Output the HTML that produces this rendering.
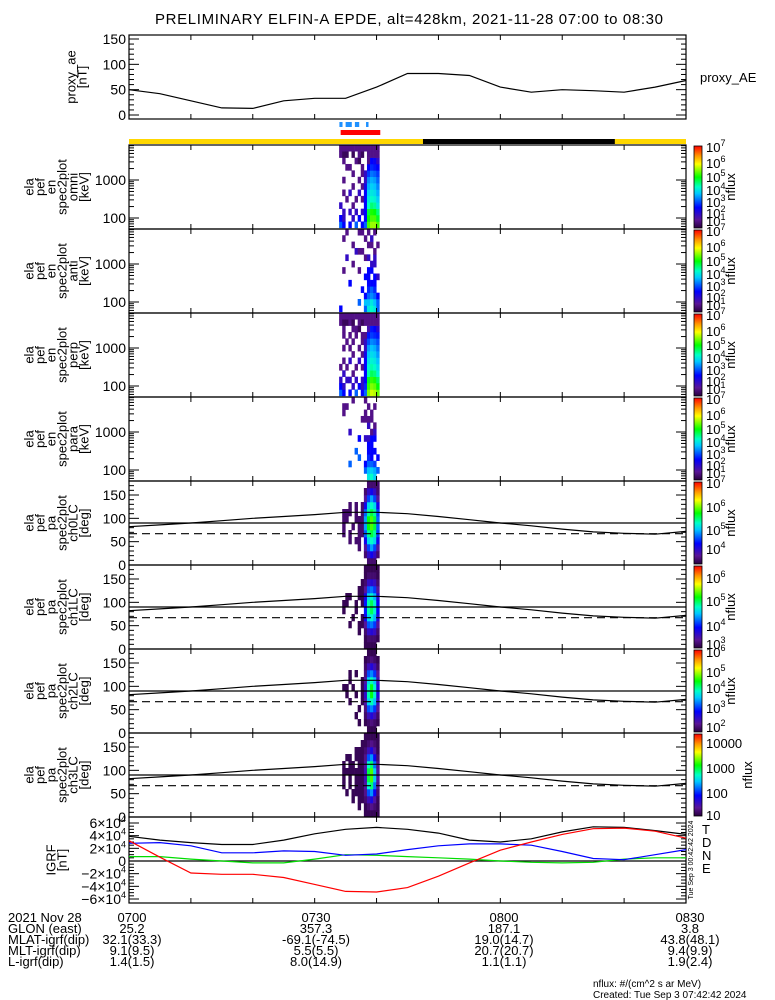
<!DOCTYPE html>
<html><head><meta charset="utf-8">
<style>
html,body{margin:0;padding:0;background:#fff;}
svg{display:block;font-family:"Liberation Sans",sans-serif;}
text{fill:#000;}
</style></head>
<body>
<svg id="chart" width="775" height="1000" viewBox="0 0 775 1000" xmlns="http://www.w3.org/2000/svg">
<defs>
<linearGradient id="cbgrad" x1="0" y1="1" x2="0" y2="0">
<stop offset="0" stop-color="rgb(40,0,60)"/>
<stop offset="0.1" stop-color="rgb(90,20,150)"/>
<stop offset="0.25" stop-color="rgb(0,0,255)"/>
<stop offset="0.42" stop-color="rgb(0,200,255)"/>
<stop offset="0.5" stop-color="rgb(0,255,200)"/>
<stop offset="0.62" stop-color="rgb(0,255,0)"/>
<stop offset="0.78" stop-color="rgb(255,255,0)"/>
<stop offset="0.88" stop-color="rgb(255,150,0)"/>
<stop offset="1" stop-color="rgb(255,0,0)"/>
</linearGradient>
</defs>
<text x="409" y="24" font-size="15" text-anchor="middle" textLength="508">PRELIMINARY ELFIN-A EPDE, alt=428km, 2021-11-28 07:00 to 08:30</text>
</svg>
<script>
// ---------- data ----------
const aeTimes = [0,5,10,15,20,25,30,35,40,45,50,55,60,65,70,75,80,85,90];
const aeValues = [50,42,28,14,13,28,33,33,55,82,82,78,55,45,50,48,45,55,68];

const igrfTimes = [0,5,10,15,20,25,30,35,40,45,50,55,60,65,70,75,80,85,90];
const igrfT = [3.9,3.3,2.9,2.6,2.6,3.3,4.3,5.0,5.3,5.0,4.4,3.3,3.0,3.5,4.6,5.4,5.3,4.8,4.2];
const igrfD = [3.2,0.6,-1.9,-2.1,-2.1,-2.6,-3.7,-4.8,-4.9,-4.2,-2.4,-0.3,1.7,3.0,4.2,5.1,5.2,4.7,3.6];
const igrfN = [2.8,2.9,2.4,1.3,1.3,1.6,1.5,0.9,1.1,1.8,2.4,2.7,2.7,2.5,1.5,0.4,0.2,1.0,1.8];
const igrfE = [0.7,0.7,0.3,0.0,-0.3,-0.3,0.3,1.0,0.9,0.7,0.5,0.3,0.0,-0.2,-0.3,-0.2,0.3,0.5,0.5];

const lcTimes = [0,5,10,15,20,25,30,35,40,45,50,55,60,65,70,75,80,85,90];
const lossCone = [82,86,90,95,100,104,108,113,113,110,104,97,90,84,77,71,68,66,72];
const antiLossCone = [67];

const aeMarkStarts = [34.0,35.0,36.5,38.3];
const aeMarkEnds = [34.5,36.0,37.2,38.7];
const sciZone = [34.2,40.6];
const eclipse = [47.5,78.5];

const specTimes = [34.2,34.7,35.2,35.7,36.2,36.7,37.2,37.7,38.2,38.7,39.2,39.7,40.2];
const energyEdges = [55,81,120,176,259,382,562,827,1218,1793,2640,3887,5722,8425];
const pitchEdges = [0,15,30,45,60,75,90,105,120,135,150,165,180];

const omni = [
[3,2.5,0,2,0,0,0,0,0,0,0,1.5,1.5],
[2.5,2,2,0,0,1.5,0,1.5,0,0,1.5,1.2,1.5],
[0,0,0,0,1.5,0,0,0,0,1.5,0,1.2,1.5],
[2.5,0,2,0,0,2,0,0,0,1.5,0,0,1.5],
[0,2,0,1.5,0,0,1.5,0,1.5,0,0,1.2,1.5],
[3,0,2,0,1.5,0,0,0,0,0,1.5,0,1.5],
[0,2.5,0,0,0,2,0,1.5,0,0,1.2,1.5,1.5],
[2.5,0,2,0,1.5,0,1.5,0,1.5,1.5,0,1.2,1.5],
[3,2.5,2.5,2.5,2.5,2.5,2.3,2,2,0,0,0,1.5],
[5,4.7,4.5,4,3.8,3.6,3.4,3.2,2.8,2.5,1.5,1.5,1.5],
[5.3,5,4.8,4.3,4,3.8,3.6,3.4,3.1,2.7,2.5,1.5,1.5],
[5.3,5,4.7,4.2,3.9,3.7,3.5,3.3,3,2.6,2.4,1.5,1.5],
[5,4.6,4.3,3.8,3.6,3.4,3.2,3,2.8,2.5,2,1.5,1.5]];
const anti = [
[2.5,0,0,0,0,0,0,0,0,0,0,0,0],
[0,0,0,0,0,0,1.5,0,0,0,0,1.5,0],
[0,0,0,0,0,0,0,0,2,0,0,0,1.5],
[0,0,0,0,2.5,0,0,0,0,0,0,0,0],
[0,0,0,0,0,0,0,1.5,0,0,1.5,0,0],
[0,0,0,0,0,0,0,0,0,2,0,0,0],
[0,3,0,0,0,0,1.5,0,0,1.5,0,0,1.5],
[0,0,0,2.5,0,0,0,0,0,1.5,0,0,1.5],
[3,3.5,2.5,0,0,2.5,0,0,1.5,0,0,1.5,0],
[3.8,3.5,3,2.7,2.5,2.5,2.5,0,2,0,1.5,0,1.5],
[4,3.8,3.2,3,2.5,0,2.5,2,0,0,1.5,2,0],
[3.8,3.5,3,2.7,2.5,2.5,0,2,2,1.5,0,0,1.5],
[3,3,2.5,0,0,2,0,0,0,0,1.5,0,0]];
const perp = [
[3,2.5,2,0,1.5,0,0,0,0,0,0,1.5,1.5],
[2.5,2,0,2,0,1.5,0,1.5,0,1.5,1.5,1.2,1.5],
[0,0,2,0,1.5,0,0,0,1.5,0,0,1.2,1.5],
[2.5,0,2,0,0,2,0,1.5,0,1.5,0,1.5,1.5],
[0,2,0,1.5,0,0,1.5,0,1.5,0,1.5,1.2,1.5],
[3,0,2,0,1.5,0,0,0,0,1.5,1.5,0,1.5],
[0,2.5,0,0,0,2,0,1.5,0,0,1.2,1.5,1.5],
[2.5,2,2,0,1.5,0,1.5,0,1.5,1.5,0,1.2,1.5],
[3,2.7,2.5,2.5,2.5,2.5,2.3,2,2,1.5,0,1.5,1.5],
[5.2,4.9,4.6,4.1,3.9,3.7,3.5,3.3,2.9,2.6,1.8,1.5,1.5],
[5.5,5.2,4.9,4.4,4.1,3.9,3.7,3.5,3.2,2.8,2.6,1.5,1.5],
[5.4,5.1,4.8,4.3,4,3.8,3.6,3.4,3.1,2.7,2.5,1.5,1.5],
[5.1,4.7,4.4,3.9,3.7,3.5,3.3,3.1,2.9,2.6,2.1,1.5,1.5]];
const para = [
[0,0,0,0,0,0,0,0,0,0,0,0,0],
[0,0,0,0,0,0,0,0,0,0,1.5,1.5,0],
[0,0,0,0,0,0,0,0,0,0,0,1.5,0],
[0,0,3,0,0,0,0,2,0,0,0,0,0],
[0,0,0,0,0,0,0,0,0,0,0,0,1.5],
[0,0,0,0,3,0,0,0,0,0,0,0,0],
[0,0,0,3,0,0,2.5,0,0,0,0,0,0],
[0,0,0,0,0,0,0,0,0,1.5,0,0,0],
[0,3,2.5,0,0,0,2,0,0,1.5,1.5,0,1.5],
[3.8,3.5,3,2.7,2.5,2.5,2,0,2,1.5,0,1.5,0],
[4,3.6,3,2.5,2.5,2.5,2.5,1.5,0,1.5,1.5,0,0],
[3.6,3.4,2.8,0,2.5,0,2.5,2,1.5,0,0,1.5,0],
[0,3,0,2.5,0,0,0,0,0,0,0,0,0]];

const ch0 = [
[0,0,0,0,0,0,0,0,0,0,0,0],
[0,0,0,0,3.6,3.6,3.6,3.6,0,0,0,0],
[0,0,0,0,0,0,3.6,3.6,0,0,0,0],
[0,0,0,3.6,3.6,0,0,3.6,3.6,0,0,0],
[0,0,0,0,0,3.6,0,0,0,0,0,0],
[0,0,0,3.6,0,0,3.6,3.6,3.6,0,0,0],
[0,0,3.6,3.6,3.6,3.6,3.6,0,0,0,0,0],
[0,0,0,0,3.6,3.6,3.6,3.6,3.6,0,0,0],
[0,3.6,3.8,4.2,4.6,4.8,4.8,4.6,4.2,3.8,3.6,0],
[3.6,4,4.5,5,5.3,5.6,5.6,5.3,5,4.5,4,3.6],
[3.6,4.2,4.8,5.2,5.5,5.8,5.8,5.5,5.2,4.8,4.2,3.6],
[3.6,4,4.5,5,5.3,5.5,5.5,5.3,5,4.5,4,3.6],
[0,3.6,3.8,4.2,4.5,4.6,4.6,4.5,4.2,3.8,3.6,3.6]];
const ch1 = [
[0,0,0,0,0,0,0,0,0,0,0,0],
[0,0,0,0,0,2.9,2.9,0,0,0,0,0],
[0,0,0,0,0,0,2.9,2.9,0,0,0,0],
[0,0,0,2.9,0,0,0,2.9,0,0,0,0],
[0,0,0,0,2.9,0,0,0,0,0,0,0],
[0,0,0,0,0,2.9,2.9,0,0,0,0,0],
[0,0,2.9,2.9,0,0,0,2.9,2.9,0,0,0],
[0,0,0,2.9,2.9,0,2.9,2.9,2.9,2.9,0,0],
[2.9,2.9,3,3.2,3.6,3.8,3.8,3.6,3.2,3,2.9,2.9],
[2.9,3,3.4,4,4.4,4.7,4.7,4.4,4,3.4,3,2.9],
[2.9,3,3.5,4.1,4.6,4.9,4.9,4.6,4.1,3.5,3,2.9],
[2.9,3,3.4,3.9,4.3,4.6,4.6,4.3,3.9,3.4,3,2.9],
[0,2.9,3,3.2,3.5,3.7,3.7,3.5,3.2,3,2.9,2.9]];
const ch2 = [
[0,0,0,0,0,0,0,0,0,0,0,0],
[0,0,0,0,0,0,2.1,0,0,0,0,0],
[0,0,0,0,0,2.1,2.1,0,0,0,0,0],
[0,0,0,0,2.1,0,0,2.1,2.1,0,0,0],
[0,0,0,0,0,0,2.1,0,0,0,0,0],
[0,0,2.1,0,0,2.1,0,0,2.1,0,0,0],
[0,2.1,0,2.1,0,0,0,0,0,0,0,0],
[0,0,0,0,2.1,2.1,2.1,2.1,0,0,0,0],
[0,2.1,2.2,2.3,2.5,2.7,2.7,2.5,2.3,2.2,2.1,0],
[2.1,2.2,2.6,3.3,3.8,4.1,4.1,3.8,3.3,2.6,2.2,2.1],
[2.1,2.3,2.8,3.5,4.1,4.5,4.5,4.1,3.5,2.8,2.3,2.1],
[2.1,2.2,2.6,3.2,3.7,4.0,4.0,3.7,3.2,2.6,2.2,2.1],
[0,2.1,2.2,2.4,2.6,2.8,2.8,2.6,2.4,2.2,2.1,0]];
const ch3 = [
[0,0,0,0,0,0,0,0,0,0,0,0],
[0,0,0,0,1,1,1,1,0,0,0,0],
[0,0,0,1,0,0,1,0,1,0,0,0],
[0,0,0,0,1,1,1,1,1,0,0,0],
[0,0,1,1,0,0,1,1,0,0,0,0],
[0,0,0,1,1,1,1,0,1,1,0,0],
[0,1,1,1,1,1,1,1,1,1,0,0],
[0,0,1,1,1,1,1,1,1,1,1,0],
[1,1,1.1,1.2,1.3,1.4,1.4,1.3,1.2,1.1,1,1],
[1,1.1,1.4,2.0,2.6,2.9,2.9,2.6,2.0,1.4,1.1,1],
[1,1.2,1.6,2.2,2.8,3.2,3.2,2.8,2.2,1.6,1.2,1],
[1,1.1,1.3,1.7,2.1,2.4,2.4,2.1,1.7,1.3,1.1,1],
[1,1,1,1.1,1.2,1.3,1.3,1.2,1.1,1,1,1]];

const igrfTicks = [6,4,2,0,-2,-4,-6];
const aeTicks = [0,50,100,150];
const pitchTicks = [0,50,100,150];
const energyTicks = [100,1000];

// ---------- helpers ----------
const svg = document.getElementById('chart');
const NS = 'http://www.w3.org/2000/svg';
function mk(tag, attrs, parent){ const e=document.createElementNS(NS,tag); for(const k in attrs) e.setAttribute(k,attrs[k]); (parent||svg).appendChild(e); return e; }
const X0=129, X1=686, TMAX=90;
function xT(t){ return X0 + t*(X1-X0)/TMAX; }
const stops=[[0,[40,0,60]],[0.1,[90,20,150]],[0.25,[0,0,255]],[0.42,[0,200,255]],[0.5,[0,255,200]],[0.62,[0,255,0]],[0.78,[255,255,0]],[0.88,[255,150,0]],[1,[255,0,0]]];
function cmap(f){ f=Math.max(0,Math.min(1,f)); for(let i=1;i<stops.length;i++){ if(f<=stops[i][0]){ const a=stops[i-1],b=stops[i]; const u=(f-a[0])/(b[0]-a[0]); const c=a[1].map((v,j)=>Math.round(v+(b[1][j]-v)*u)); return 'rgb('+c.join(',')+')'; } } return 'rgb(255,0,0)'; }

function timeTicks(top,bot,g){
  for(let t=0;t<=90;t+=10){ const x=xT(t);
    const a=mk('line',{x1:x,y1:bot,x2:x,y2:bot-5,stroke:'#000','stroke-width':1},g);
    
    
    const b=mk('line',{x1:x,y1:top,x2:x,y2:top+5,stroke:'#000','stroke-width':1},g);
    
    
  }
}
function box(top,bot,g){
  const r=mk('rect',{x:X0,y:top,width:X1-X0,height:bot-top,fill:'none',stroke:'#000','stroke-width':1.2},g);
  
  
}
function ylabel(lines,cx,cy,g,name){
  const n=lines.length, sp=11;
  lines.forEach((s,i)=>{
    const x=cx-(n-1)*sp/2+i*sp;
    const t=mk('text',{x:0,y:0,'font-size':13,'text-anchor':'middle',transform:'translate('+(x+5)+','+cy+') rotate(-90)'},g);
    t.textContent=s;
    
    
  });
}
function yTick(y,len,g){
  const a=mk('line',{x1:X0,y1:y,x2:X0+len,y2:y,stroke:'#000'},g);
  
  
  const b=mk('line',{x1:X1,y1:y,x2:X1-len,y2:y,stroke:'#000'},g);
  
  
}
function tickLabel(txt,y,g){
  const t=mk('text',{x:X0-3,y:y+5,'font-size':14,'text-anchor':'end'},g);
  t.textContent=txt;
  
  
  return t;
}
function colorbar(top,bot,labels,labelYs,nfluxX,g){
  const r=mk('rect',{x:694,y:top+1,width:8,height:bot-top-2,fill:'url(#cbgrad)',stroke:'#000','stroke-width':0.8},g);
  
  
  labels.forEach((lb,i)=>{
    const t=mk('text',{x:706,y:labelYs[i]+5,'font-size':13},g);
    if(lb[1]!==null){ t.textContent=lb[0]; const s=mk('tspan',{dy:-6,'font-size':9},t); s.textContent=lb[1]; }
    else t.textContent=lb[0];
    
    
  });
  const n=mk('text',{x:0,y:0,'font-size':13,'text-anchor':'middle',transform:'translate('+nfluxX+','+((top+bot)/2)+') rotate(-90)'},g);
  n.textContent='nflux';
  
  
}
function heat(matrix,edgesY,yOf,zmin,zmax,g){
  matrix.forEach((col,ci)=>{
    const x=xT(specTimes[ci]-0.25), w=xT(specTimes[ci]+0.25)-x;
    col.forEach((v,bi)=>{
      if(!v) return;
      const y1=yOf(edgesY[bi]), y2=yOf(edgesY[bi+1]);
      const c=mk('rect',{x:x,y:Math.min(y1,y2),width:w+0.3,height:Math.abs(y2-y1)+0.3,fill:cmap((v-zmin)/(zmax-zmin))},g);
      
      
    });
  });
}
function polyline(ts,vs,xf,yf,color,g,name,dash){
  const pts=ts.map((t,i)=>xf(t).toFixed(1)+','+yf(vs[i]).toFixed(1)).join(' ');
  const p=mk('polyline',{points:pts,fill:'none',stroke:color,'stroke-width':1.2},g);
  if(dash) p.setAttribute('stroke-dasharray',dash);
  
  
  return p;
}

// ---------- proxy AE ----------
{
  const g=mk('g',{});  
  const top=35,bot=119; const yA=v=>115-v*(76/150);
  box(top,bot,g); timeTicks(top,bot,g);
  for(let v=0;v<=150;v+=10){ yTick(yA(v), v%50===0?10:5, g); }
  aeTicks.forEach(v=>tickLabel(String(v),yA(v),g));
  polyline(aeTimes,aeValues,xT,yA,'#000',g,'proxy-ae-line');
  ylabel(['proxy_ae','[nT]'],76,77,g,'y-axis-title');
  const t=mk('text',{x:700,y:82,'font-size':13},g); t.textContent='proxy_AE';
  
  
}
// ---------- state bars ----------
{
  const g=mk('g',{});  
  aeMarkStarts.forEach((s,i)=>{
    const r=mk('rect',{x:xT(s),y:122,width:xT(aeMarkEnds[i])-xT(s),height:5,fill:'#1e90ff'},g);
    
    
  });
  const red=mk('rect',{x:xT(sciZone[0]),y:130,width:xT(sciZone[1])-xT(sciZone[0]),height:5,fill:'#ff0000'},g);
  
  
  const y=mk('rect',{x:X0,y:139,width:X1-X0,height:5,fill:'#ffd700'},g);
  
  
  const k=mk('rect',{x:xT(eclipse[0]),y:139,width:xT(eclipse[1])-xT(eclipse[0]),height:5,fill:'#000'},g);
  
  
}
// ---------- energy spectrograms ----------
const specData=[omni,anti,perp,para];
const specNames=['omni','anti','perp','para'];
const specCbY=[2,18,32,45,57,68,76];
const specCbL=[['10','7'],['10','6'],['10','5'],['10','4'],['10','3'],['10','2'],['10','1']];
specData.forEach((m,i)=>{
  const top=145+84*i, bot=top+84;
  const g=mk('g',{});  
  const yE=E=>top+73-(Math.log10(E)-2)*38;
  heat(m,energyEdges,yE,1,7,g);
  box(top,bot,g); timeTicks(top,bot,g);
  for(let d=10;d<=10000;d*=10){ for(let k=1;k<10;k++){ const y=yE(d*k); if(y>top&&y<bot) yTick(y,k===1?10:5,g); } }
  energyTicks.forEach(E=>tickLabel(String(E),yE(E),g));
  ylabel(['ela','pef','en','spec2plot',specNames[i],'[keV]'],56,(top+bot)/2,g,'y-axis-title');
  colorbar(top,bot,specCbL,specCbY.map(o=>top+o),735,g);
});
// ---------- pitch angle spectrograms ----------
const pitchData=[ch0,ch1,ch2,ch3];
const pitchZ=[[3.4,7],[2.8,6.5],[2.0,6.1],[0.9,4.35]];
const pitchCbL=[
 [['10','7'],['10','6'],['10','5'],['10','4']],
 [['10','6'],['10','5'],['10','4'],['10','3']],
 [['10','6'],['10','5'],['10','4'],['10','3'],['10','2']],
 [['10000',null],['1000',null],['100',null],['10',null]]];
const pitchCbY=[[2,26,49,68],[13,36,61,79],[3,23,39,59,78],[10,35,60,82]];
pitchData.forEach((m,i)=>{
  const top=481+84*i, bot=top+84;
  const g=mk('g',{});  
  const yP=d=>bot-d*84/180;
  heat(m,pitchEdges,yP,pitchZ[i][0],pitchZ[i][1],g);
  box(top,bot,g); timeTicks(top,bot,g);
  for(let d=10;d<180;d+=10){ yTick(yP(d), d%50===0?10:5, g); }
  pitchTicks.forEach(d=>tickLabel(String(d),yP(d),g));
  const h=mk('line',{x1:X0,y1:yP(90),x2:X1,y2:yP(90),stroke:'#000','stroke-width':1.2},g);
  
  
  polyline(lcTimes,lossCone,xT,yP,'#000',g,'loss-cone-line');
  polyline([0,90],[antiLossCone[0],antiLossCone[0]],xT,yP,'#000',g,'anti-loss-cone-line','8,5');
  ylabel(['ela','pef','pa','spec2plot','ch'+i+'LC','[deg]'],56,(top+bot)/2,g,'y-axis-title');
  colorbar(top,bot,pitchCbL[i],pitchCbY[i].map(o=>top+o),i===3?752:735,g);
});
// ---------- IGRF ----------
{
  const top=817,bot=903; const yI=v=>861-v*(38/6);
  const g=mk('g',{});  
  box(top,bot,g); timeTicks(top,bot,g);
  for(let v=-6;v<=6;v+=0.5){ yTick(yI(v), Number.isInteger(v)&&v%2===0?10:5, g); }
  igrfTicks.forEach(v=>{
    const t=mk('text',{x:X0-3,y:yI(v)+5,'font-size':14,'text-anchor':'end'},g);
    if(v===0){ t.textContent='0'; }
    else { t.textContent=(v<0?'\u2212':'')+Math.abs(v)+'\u00d710'; const s=mk('tspan',{dy:-6,'font-size':9},t); s.textContent='4'; }
    
    
  });
  const z=mk('line',{x1:X0,y1:yI(0),x2:X1,y2:yI(0),stroke:'#000','stroke-width':1.2},g);
  
  
  polyline(igrfTimes,igrfE,xT,yI,'#00dd00',g,'igrf-e-line');
  polyline(igrfTimes,igrfN,xT,yI,'#0000ff',g,'igrf-n-line');
  polyline(igrfTimes,igrfT,xT,yI,'#000',g,'igrf-t-line');
  polyline(igrfTimes,igrfD,xT,yI,'#ff0000',g,'igrf-d-line');
  ylabel(['IGRF','[nT]'],56,860,g,'y-axis-title');
  [['T','#000',834],['D','#ff0000',847],['N','#0000ff',860],['E','#00dd00',873]].forEach(l=>{
    const t=mk('text',{x:702,y:l[2],'font-size':13,fill:l[1]},g); t.textContent=l[0];
    
    
  });
  const c=mk('text',{x:0,y:0,'font-size':7,'text-anchor':'middle',transform:'translate(693,860) rotate(-90)'},g);
  c.textContent='Tue Sep  3 00:42:42 2024';
  
  
}
// ---------- ephemeris table ----------
{
  const g=mk('g',{});  
  const rows=[['2021 Nov 28','0700','0730','0800','0830'],
   ['GLON (east)','25.2','357.3','187.1','3.8'],
   ['MLAT-igrf(dip)','32.1(33.3)','-69.1(-74.5)','19.0(14.7)','43.8(48.1)'],
   ['MLT-igrf(dip)','9.1(9.5)','5.5(5.5)','20.7(20.7)','9.4(9.9)'],
   ['L-igrf(dip)','1.4(1.5)','8.0(14.9)','1.1(1.1)','1.9(2.4)']];
  const cx=[132,316,504,690];
  rows.forEach((r,i)=>{
    const y=922+i*11;
    const a=mk('text',{x:8,y:y,'font-size':13},g); a.textContent=r[0];
    
    
    for(let j=1;j<5;j++){
      const t=mk('text',{x:cx[j-1],y:y,'font-size':13,'text-anchor':'middle'},g); t.textContent=r[j];
      
      
    }
  });
  const n1=mk('text',{x:593,y:987,'font-size':10},g); n1.textContent='nflux: #/(cm^2 s ar MeV)';
  
  
  const n2=mk('text',{x:593,y:998,'font-size':10},g); n2.textContent='Created: Tue Sep  3 07:42:42 2024';
  
  
}
</script>
</body></html>
